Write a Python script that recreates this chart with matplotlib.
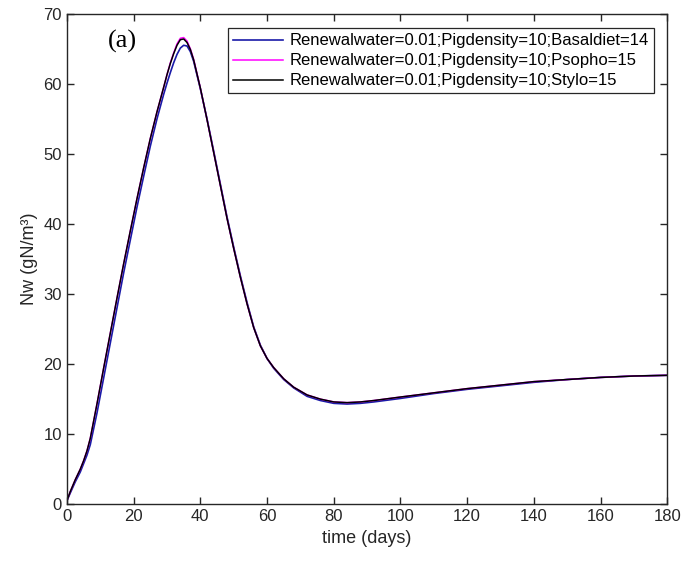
import matplotlib.pyplot as plt

plt.rcParams['font.family'] = ['Liberation Sans', 'DejaVu Sans']

# values
t_days = [0, 1, 2.5, 4, 5, 6, 7, 9, 11, 13, 15, 17, 19, 21, 23, 25, 27, 29, 30, 31,
          32, 33, 34, 35, 36, 37, 38, 40, 42, 44, 46, 48, 50, 52, 54, 56, 58, 60, 62,
          65, 68, 72, 76, 80, 84, 88, 92, 100, 110, 120, 130, 140, 150, 160, 170, 180]

nw_basal = [0.5, 1.6, 3.2, 4.6, 5.8, 7.0, 8.5, 13.0, 18.0, 23.0, 28.0, 33.0, 37.7, 42.4,
            46.8, 51.1, 55.0, 58.5, 60.1, 61.6, 63.0, 64.2, 65.1, 65.5, 65.4, 64.6, 63.2,
            59.3, 55.0, 50.4, 45.7, 41.0, 36.7, 32.6, 28.8, 25.3, 22.7, 20.8, 19.4,
            17.8, 16.6, 15.4, 14.8, 14.4, 14.3, 14.4, 14.6, 15.1, 15.8, 16.4, 16.9,
            17.4, 17.8, 18.1, 18.3, 18.4]

nw_psopho = [0.5, 1.8, 3.5, 5.0, 6.2, 7.6, 9.4, 14.3, 19.4, 24.4, 29.4, 34.3, 39.0, 43.6,
             48.0, 52.2, 56.0, 59.5, 61.3, 63.0, 64.4, 65.7, 66.5, 66.6, 66.1, 65.0, 63.5,
             59.4, 54.9, 50.2, 45.5, 40.8, 36.5, 32.4, 28.6, 25.2, 22.6, 20.8, 19.5,
             17.9, 16.7, 15.6, 15.0, 14.6, 14.5, 14.6, 14.8, 15.3, 15.9, 16.5, 17.0,
             17.5, 17.8, 18.1, 18.3, 18.4]

nw_stylo = [0.5, 1.8, 3.5, 5.0, 6.2, 7.6, 9.4, 14.3, 19.4, 24.4, 29.4, 34.3, 39.0, 43.6,
            48.0, 52.2, 56.0, 59.5, 61.3, 62.9, 64.3, 65.5, 66.3, 66.4, 65.9, 64.9, 63.4,
            59.4, 54.9, 50.2, 45.5, 40.8, 36.5, 32.4, 28.6, 25.2, 22.6, 20.8, 19.5,
            17.9, 16.7, 15.6, 15.0, 14.6, 14.5, 14.6, 14.8, 15.3, 15.9, 16.5, 17.0,
            17.5, 17.8, 18.1, 18.3, 18.4]

labels = ["Renewalwater=0.01;Pigdensity=10;Basaldiet=14",
          "Renewalwater=0.01;Pigdensity=10;Psopho=15",
          "Renewalwater=0.01;Pigdensity=10;Stylo=15"]

fig = plt.figure(figsize=(6.83, 5.73), dpi=100)
ax = fig.add_axes([0.098, 0.12, 0.879, 0.856])

ax.plot(t_days, nw_basal, color='#1a1aa8', lw=1.2, label=labels[0])
ax.plot(t_days, nw_psopho, color='#ff00ff', lw=1.1, label=labels[1])
ax.plot(t_days, nw_stylo, color='black', lw=1.1, label=labels[2])

ax.set_xlim(0, 180)
ax.set_ylim(0, 70)
ax.set_xticks(range(0, 181, 20))
ax.set_yticks(range(0, 71, 10))
ax.tick_params(direction='in', top=True, right=True, labelsize=12,
               colors='#262626', length=5, width=1.0)
for s in ax.spines.values():
    s.set_color('#262626')
    s.set_linewidth(1.0)

ax.set_xlabel("time (days)", fontsize=13, color='#262626')
ax.set_ylabel("Nw (gN/m³)", fontsize=13, color='#262626')

ax.text(12.3, 66, "(a)", fontsize=19, family='Liberation Serif', va='center')

leg = ax.legend(loc='upper right', bbox_to_anchor=(0.978, 0.97), fontsize=12,
                fancybox=False, framealpha=1, edgecolor='#262626',
                borderpad=0.3, labelspacing=0.3, handlelength=3.0,
                handletextpad=0.4, borderaxespad=0.0)
leg.get_frame().set_linewidth(0.9)

fig.savefig("out.png", dpi=100)
